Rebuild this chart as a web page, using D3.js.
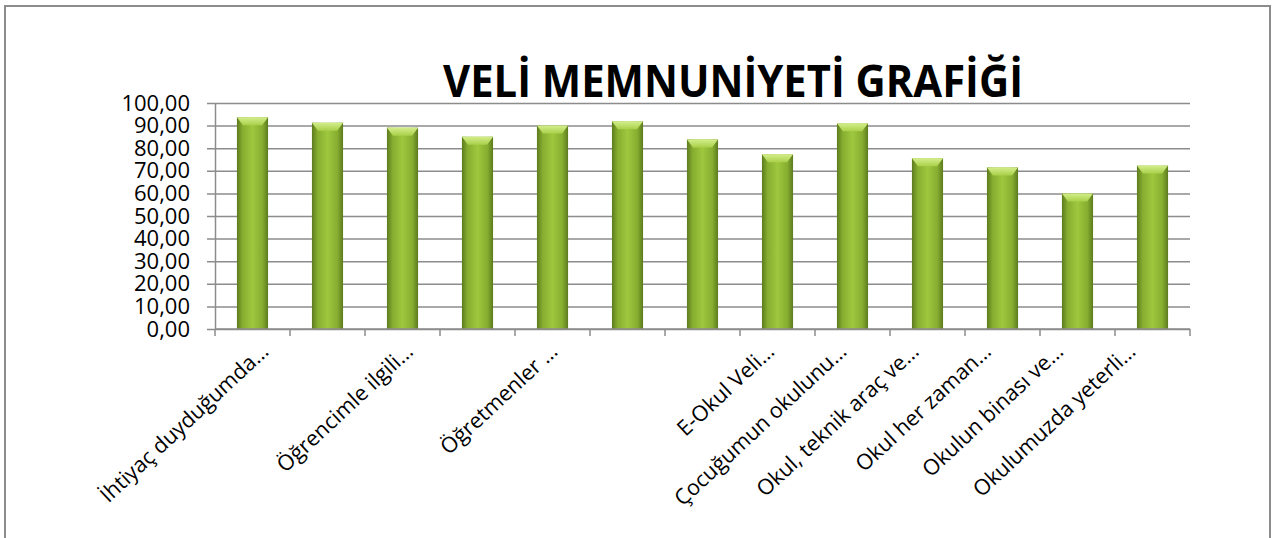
<!DOCTYPE html>
<html>
<head>
<meta charset="utf-8">
<script src="https://cdn.jsdelivr.net/npm/d3@7"></script>
<style>
  body { margin: 0; background: #fff; }
  svg { display: block; }
</style>
</head>
<body>
<script>
// chart data
const title = "VELİ MEMNUNİYETİ GRAFİĞİ";
const categories = [
  "İhtiyaç duyduğumda…", "", "Öğrencimle ilgili…", "", "Öğretmenler …", "", "",
  "E-Okul Veli…", "Çocuğumun okulunu…", "Okul, teknik araç ve…",
  "Okul her zaman…", "Okulun binası ve…", "Okulumuzda yeterli…"
];
const values = [93.7, 91.3, 89.1, 85.1, 90.0, 91.9, 83.9, 77.3, 91.0, 75.5, 71.5, 60.0, 72.3];
const yTicks = [0, 10, 20, 30, 40, 50, 60, 70, 80, 90, 100];

const W = 1280, H = 538;
const margin = { top: 103, left: 215, right: 90, bottom: 209 };

const svg = d3.select("body").append("svg")
    .attr("width", W)
    .attr("height", H);

const defs = svg.append("defs");
const grad = defs.append("linearGradient").attr("id", "barGrad")
    .attr("x1", 0).attr("x2", 1).attr("y1", 0).attr("y2", 0);
grad.append("stop").attr("offset", "0%").attr("stop-color", "#5c7a1e");
grad.append("stop").attr("offset", "18%").attr("stop-color", "#86ad2f");
grad.append("stop").attr("offset", "50%").attr("stop-color", "#9fc83f");
grad.append("stop").attr("offset", "82%").attr("stop-color", "#86ad2f");
grad.append("stop").attr("offset", "100%").attr("stop-color", "#5c7a1e");

const bevel = defs.append("linearGradient").attr("id", "bevelGrad")
    .attr("x1", 0).attr("x2", 0).attr("y1", 0).attr("y2", 1);
bevel.append("stop").attr("offset", "0%").attr("stop-color", "#d4ee8c");
bevel.append("stop").attr("offset", "100%").attr("stop-color", "#a9d04a");

// outer frame
svg.append("rect")
    .attr("x", 5).attr("y", 6)
    .attr("width", 1265).attr("height", H)
    .attr("fill", "none")
    .attr("stroke", "#8c8c8c")
    .attr("stroke-width", 2);

const x = d3.scaleBand()
    .domain(d3.range(categories.length))
    .range([margin.left, W - margin.right])
    .paddingInner(0.585)
    .paddingOuter(0.2925);

const y = d3.scaleLinear()
    .domain([0, 100])
    .range([H - margin.bottom, margin.top]);

// labels sit a little tighter than the bars
const xLab = d3.scalePoint()
    .domain(d3.range(categories.length))
    .range([margin.left + 55, W - margin.right - 53]);

// title
svg.append("text")
    .attr("x", 733).attr("y", 97)
    .attr("text-anchor", "middle")
    .attr("font-family", "Open Sans")
    .attr("font-weight", "bold")
    .attr("font-size", 45)
    .attr("textLength", 580)
    .attr("lengthAdjust", "spacingAndGlyphs")
    .text(title);

// gridlines
const gy = svg.append("g")
    .attr("transform", `translate(${margin.left},0)`)
    .call(d3.axisLeft(y).tickValues(yTicks)
        .tickSize(-(W - margin.right - margin.left))
        .tickSizeOuter(0)
        .tickPadding(10)
        .tickFormat(d => d3.format(".2f")(d).replace(".", ",")));
gy.select(".domain").attr("stroke", "#8c8c8c").attr("stroke-width", 1.5);
gy.selectAll(".tick line")
    .attr("stroke", "#8c8c8c").attr("stroke-width", 1.5)
    .attr("x1", -8);
gy.selectAll(".tick text")
    .attr("font-family", "Open Sans")
    .attr("font-size", 22)
    .attr("fill", "#000")
    .attr("x", -25);

// bars
const bars = svg.append("g").selectAll("g.bar")
    .data(values)
    .join("g").attr("class", "bar");

bars.append("rect")
    .attr("x", (d, i) => x(i))
    .attr("y", d => y(d))
    .attr("width", x.bandwidth())
    .attr("height", d => y(0) - y(d))
    .attr("fill", "url(#barGrad)");

bars.append("path")
    .attr("d", (d, i) => {
        const x0 = x(i), x1 = x(i) + x.bandwidth(), t = y(d), b = 8;
        return `M${x0},${t}L${x1},${t}L${x1 - 6},${t + b}L${x0 + 6},${t + b}Z`;
    })
    .attr("fill", "url(#bevelGrad)");

// x axis
const gx = svg.append("g")
    .attr("transform", `translate(0,${y(0)})`);
gx.append("line")
    .attr("x1", margin.left).attr("x2", W - margin.right)
    .attr("stroke", "#8c8c8c").attr("stroke-width", 1.5);
gx.selectAll("line.tk")
    .data(d3.range(categories.length + 1))
    .join("line").attr("class", "tk")
    .attr("x1", i => i < categories.length ? x(i) - x.step() * x.paddingOuter() : W - margin.right)
    .attr("x2", i => i < categories.length ? x(i) - x.step() * x.paddingOuter() : W - margin.right)
    .attr("y1", 0).attr("y2", 7)
    .attr("stroke", "#8c8c8c").attr("stroke-width", 1.5);

svg.append("g").selectAll("text")
    .data(categories)
    .join("text")
    .attr("transform", (d, i) => `translate(${xLab(i)},${y(0) + 24}) rotate(-43)`)
    .attr("text-anchor", "end")
    .attr("font-family", "Open Sans")
    .attr("font-size", 21.5)
    .attr("fill", "#000")
    .text(d => d);
</script>
</body>
</html>
